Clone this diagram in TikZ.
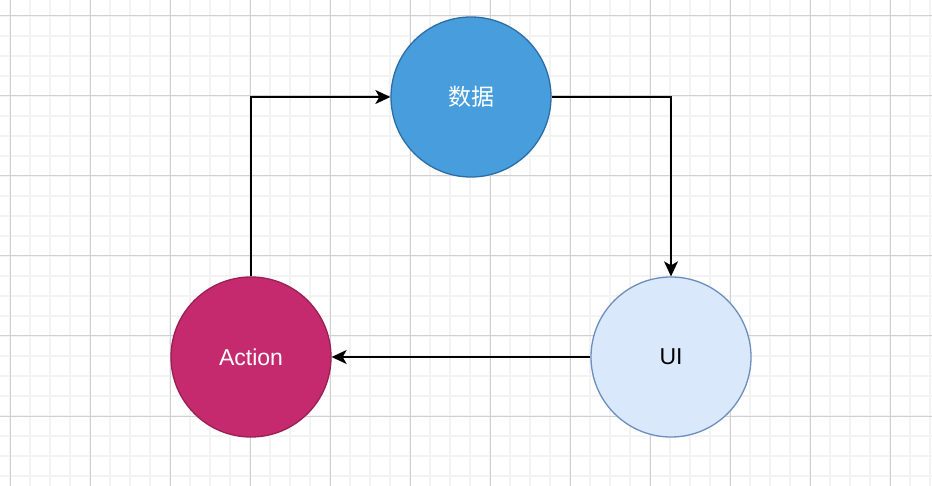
\documentclass[tikz,border=0pt]{standalone}
\usepackage{fontspec}
\setmainfont{Liberation Sans}
\newfontfamily\cjk{Noto Sans CJK SC}
\usetikzlibrary{arrows.meta}
\definecolor{gridminor}{HTML}{F3F3F3}
\definecolor{gridmajor}{HTML}{D0D0D0}
\definecolor{datafill}{HTML}{489EDC}
\definecolor{datadraw}{HTML}{2D6DA6}
\definecolor{actfill}{HTML}{C62A6E}
\definecolor{actdraw}{HTML}{9A1F52}
\definecolor{uifill}{HTML}{DAE8FC}
\definecolor{uidraw}{HTML}{6C8EBF}
\tikzset{
  ball/.style={circle, minimum size=160pt, inner sep=0pt, line width=1.3pt, font=\fontsize{23}{27}\selectfont},
  flow/.style={line width=1.4pt, -{Stealth[length=15pt,width=14pt,inset=4pt]}},
}
\begin{document}
\begin{tikzpicture}[x=1pt,y=-1pt]
\useasboundingbox (0,0) rectangle (932,486);
\fill[white] (0,0) rectangle (932,486);
\foreach \x in {10,30,...,930} \draw[gridminor,line width=1.2pt] (\x,0) -- (\x,486);
\foreach \y in {16,36,...,476} \draw[gridminor,line width=1.2pt] (0,\y) -- (932,\y);
\foreach \x in {10,90,...,890} \draw[gridmajor,line width=1pt] (\x,0) -- (\x,486);
\foreach \y in {16,96,...,416} \draw[gridmajor,line width=1pt] (0,\y) -- (932,\y);
\node[ball, fill=datafill, draw=datadraw, text=white] (data) at (471,97) {\cjk 数据};
\node[ball, fill=actfill, draw=actdraw, text=white] (act) at (251,357) {Action};
\node[ball, fill=uifill, draw=uidraw, text=black] (ui) at (671,357) {UI};
\draw[flow] (act.north) |- (data.west);
\draw[flow] (data.east) -| (ui.north);
\draw[flow] (ui.west) -- (act.east);
\end{tikzpicture}
\end{document}
